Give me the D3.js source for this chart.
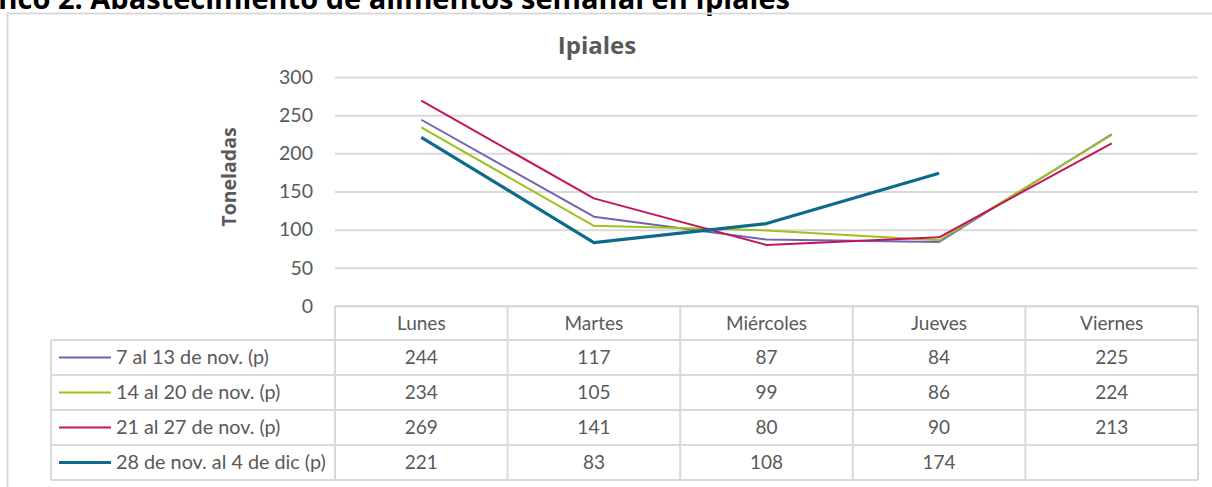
<!DOCTYPE html>
<html><head><meta charset="utf-8">
<script src="https://cdn.jsdelivr.net/npm/d3@7"></script>
<style>
html,body{margin:0;padding:0;background:#fff;}
svg{display:block;}
</style></head>
<body>
<svg id="c" width="1212" height="487"></svg>
<script>
const heading = "Gráfico 2. Abastecimiento de alimentos semanal en Ipiales";
const chartTitle = "Ipiales";
const yLabel = "Toneladas";
const days = ["Lunes","Martes","Miércoles","Jueves","Viernes"];
const yTicks = [0,50,100,150,200,250,300];
const seriesNames = ["7 al 13 de nov. (p)","14 al 20 de nov. (p)","21 al 27 de nov. (p)","28 de nov. al 4 de dic (p)"];
const s1 = [244,117,87,84,225];
const s2 = [234,105,99,86,224];
const s3 = [269,141,80,90,213];
const s4 = [221,83,108,174,null];
const seriesValues = [s1,s2,s3,s4];
const colors = ["#7163b3","#9ac31e","#c4145a","#0e6a8b"];
const widths = [2,2,2,3.2];

const svg = d3.select("#c");
const txt = "#595959";
const grid = "#d9d9d9";
const font = "Lato, 'Open Sans', sans-serif";

// heading (clipped at top/left like the reference)
svg.append("text").attr("x",790).attr("y",9).attr("text-anchor","end")
  .attr("font-family","'Open Sans', sans-serif").attr("font-weight","bold")
  .attr("font-size",29).attr("fill","#000").text(heading);

// outer frame
svg.append("path").attr("d","M7.5,487 V13.5 H1212").attr("fill","none")
  .attr("stroke","#d9d9d9").attr("stroke-width",2);

const x = d3.scaleBand().domain(days).range([335,1198]);
const y = d3.scaleLinear().domain([0,300]).range([306,77]);

// title
svg.append("text").attr("x",597).attr("y",54).attr("text-anchor","middle")
  .attr("font-family","'Open Sans', sans-serif").attr("font-weight","bold")
  .attr("font-size",24).attr("fill",txt).text(chartTitle);

// y axis title
svg.append("text").attr("transform","translate(236,177) rotate(-90)")
  .attr("text-anchor","middle").attr("font-family","'Open Sans', sans-serif")
  .attr("font-weight","bold").attr("font-size",19.5).attr("fill",txt).text(yLabel);

// gridlines + tick labels
const ax = svg.append("g").attr("transform","translate(335,0)")
  .call(d3.axisLeft(y).tickValues(yTicks).tickSize(-(1198-335)).tickPadding(22).tickFormat(d3.format("d")));
ax.select(".domain").remove();
ax.selectAll(".tick line").attr("stroke",grid).attr("stroke-width",2);
ax.selectAll(".tick text").attr("fill",txt).attr("font-family",font).attr("font-size",19.5);

// lines
const line = d3.line().defined(d=>d.v!=null)
  .x(d=>x(d.day)+x.bandwidth()/2).y(d=>y(d.v));
seriesValues.forEach((vals,i)=>{
  const data = days.map((day,j)=>({day, v: vals[j]}));
  svg.append("path").datum(data).attr("d",line).attr("fill","none")
    .attr("stroke",colors[i]).attr("stroke-width",widths[i])
    .attr("stroke-linejoin","round");
});

// data table
const tTop = 306, hH = 34, rH = 35, legL = 51;
const tbl = svg.append("g");
function hline(x1,x2,yy){tbl.append("line").attr("x1",x1).attr("x2",x2).attr("y1",yy).attr("y2",yy).attr("stroke",grid).attr("stroke-width",2);}
function vline(xx,y1,y2){tbl.append("line").attr("x1",xx).attr("x2",xx).attr("y1",y1).attr("y2",y2).attr("stroke",grid).attr("stroke-width",2);}
const tBottom = tTop + hH + rH*seriesNames.length;
hline(335,1198,tTop);
for(let r=0;r<=seriesNames.length;r++) hline(legL,1198,tTop+hH+r*rH);
vline(legL,tTop+hH,tBottom);
days.forEach(d=>vline(x(d),tTop,tBottom));
vline(1198,tTop,tBottom);

days.forEach(d=>{
  tbl.append("text").attr("x",x(d)+x.bandwidth()/2).attr("y",tTop+hH/2+6.5)
    .attr("text-anchor","middle").attr("font-family",font).attr("font-size",19)
    .attr("fill",txt).text(d);
});
seriesNames.forEach((n,i)=>{
  const cy = tTop+hH+i*rH+rH/2;
  tbl.append("line").attr("x1",59).attr("x2",111).attr("y1",cy).attr("y2",cy)
    .attr("stroke",colors[i]).attr("stroke-width",widths[i]);
  tbl.append("text").attr("x",116).attr("y",cy+6.5).attr("font-family",font)
    .attr("font-size",19.8).attr("fill",txt).text(n);
  seriesValues[i].forEach((v,j)=>{
    if(v==null) return;
    tbl.append("text").attr("x",x(days[j])+x.bandwidth()/2).attr("y",cy+6.5)
      .attr("text-anchor","middle").attr("font-family",font).attr("font-size",19)
      .attr("fill",txt).text(v);
  });
});
</script>
</body></html>
